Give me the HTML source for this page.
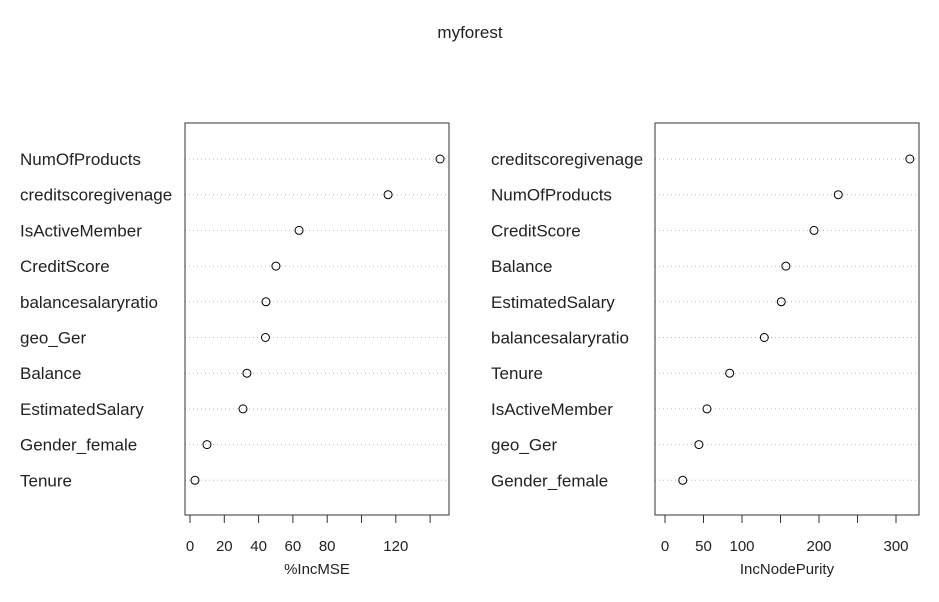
<!DOCTYPE html>
<html><head><meta charset="utf-8"><style>
body{margin:0;background:#fff;font-family:"Liberation Sans",Arial,sans-serif}
svg text{font-family:"Liberation Sans",Arial,sans-serif;fill:#222}
</style></head><body>
<svg id="chart" width="939" height="597" viewBox="0 0 939 597" xmlns="http://www.w3.org/2000/svg">
<text x="470" y="38" font-size="17" text-anchor="middle">myforest</text>
</svg>
<script>
const leftVars=["NumOfProducts","creditscoregivenage","IsActiveMember","CreditScore","balancesalaryratio","geo_Ger","Balance","EstimatedSalary","Gender_female","Tenure"];
const leftVals=[145.8,115.5,63.6,50.1,44.3,44,33.2,30.9,9.9,2.9];
const leftTicks=[0,20,40,60,80,100,120,140];
const leftTickLabels=["0","20","40","60","80","","120",""];
const rightVars=["creditscoregivenage","NumOfProducts","CreditScore","Balance","EstimatedSalary","balancesalaryratio","Tenure","IsActiveMember","geo_Ger","Gender_female"];
const rightVals=[318,225,193.5,157,151,129,84,54.5,44,23];
const rightTicks=[0,50,100,150,200,250,300];
const rightTickLabels=["0","50","100","","200","","300"];
const svg=document.getElementById('chart');
const NS="http://www.w3.org/2000/svg";
function mk(t,a,p){const e=document.createElementNS(NS,t);for(const k in a)e.setAttribute(k,a[k]);(p||svg).appendChild(e);return e;}
function panel(id,vars,vals,ticks,labels,xlab,boxL,boxR,x0,pxPer,labX){
  const g=mk('g',{});
  
  
  const sx=v=>x0+v*pxPer;
  const top=123,bot=515,y0=159,dy=35.7;
  vars.forEach((n,i)=>{
    const y=y0+i*dy;
    const l=mk('line',{x1:boxL,x2:boxR,y1:y,y2:y,stroke:'#bbb','stroke-dasharray':'1 3'},g);
    
    
    const t=mk('text',{x:labX,y:y+6,'font-size':17},g);t.textContent=n;
    
    
    const c=mk('circle',{cx:sx(vals[i]),cy:y,r:4,fill:'none',stroke:'#000','stroke-width':1},g);
    
    
  });
  const r=mk('rect',{x:boxL,y:top,width:boxR-boxL,height:bot-top,fill:'none',stroke:'#333'},g);
  
  
  const ax=mk('line',{x1:sx(ticks[0]),x2:sx(ticks[ticks.length-1]),y1:bot,y2:bot,stroke:'#333'},g);
  
  
  ticks.forEach((v,i)=>{
    const tl=mk('line',{x1:sx(v),x2:sx(v),y1:bot,y2:bot+8,stroke:'#333'},g);
    
    
    if(labels[i]){const t=mk('text',{x:sx(v),y:bot+36,'font-size':15,'text-anchor':'middle'},g);t.textContent=labels[i];
      
      }
  });
  const xt=mk('text',{x:(boxL+boxR)/2,y:574,'font-size':15,'text-anchor':'middle'},g);xt.textContent=xlab;
  
  
}
panel('incmse',leftVars,leftVals,leftTicks,leftTickLabels,'%IncMSE',185,449,190,1.715,20);
panel('incnodepurity',rightVars,rightVals,rightTicks,rightTickLabels,'IncNodePurity',655,919,665,0.77,491);
</script>
</body></html>
